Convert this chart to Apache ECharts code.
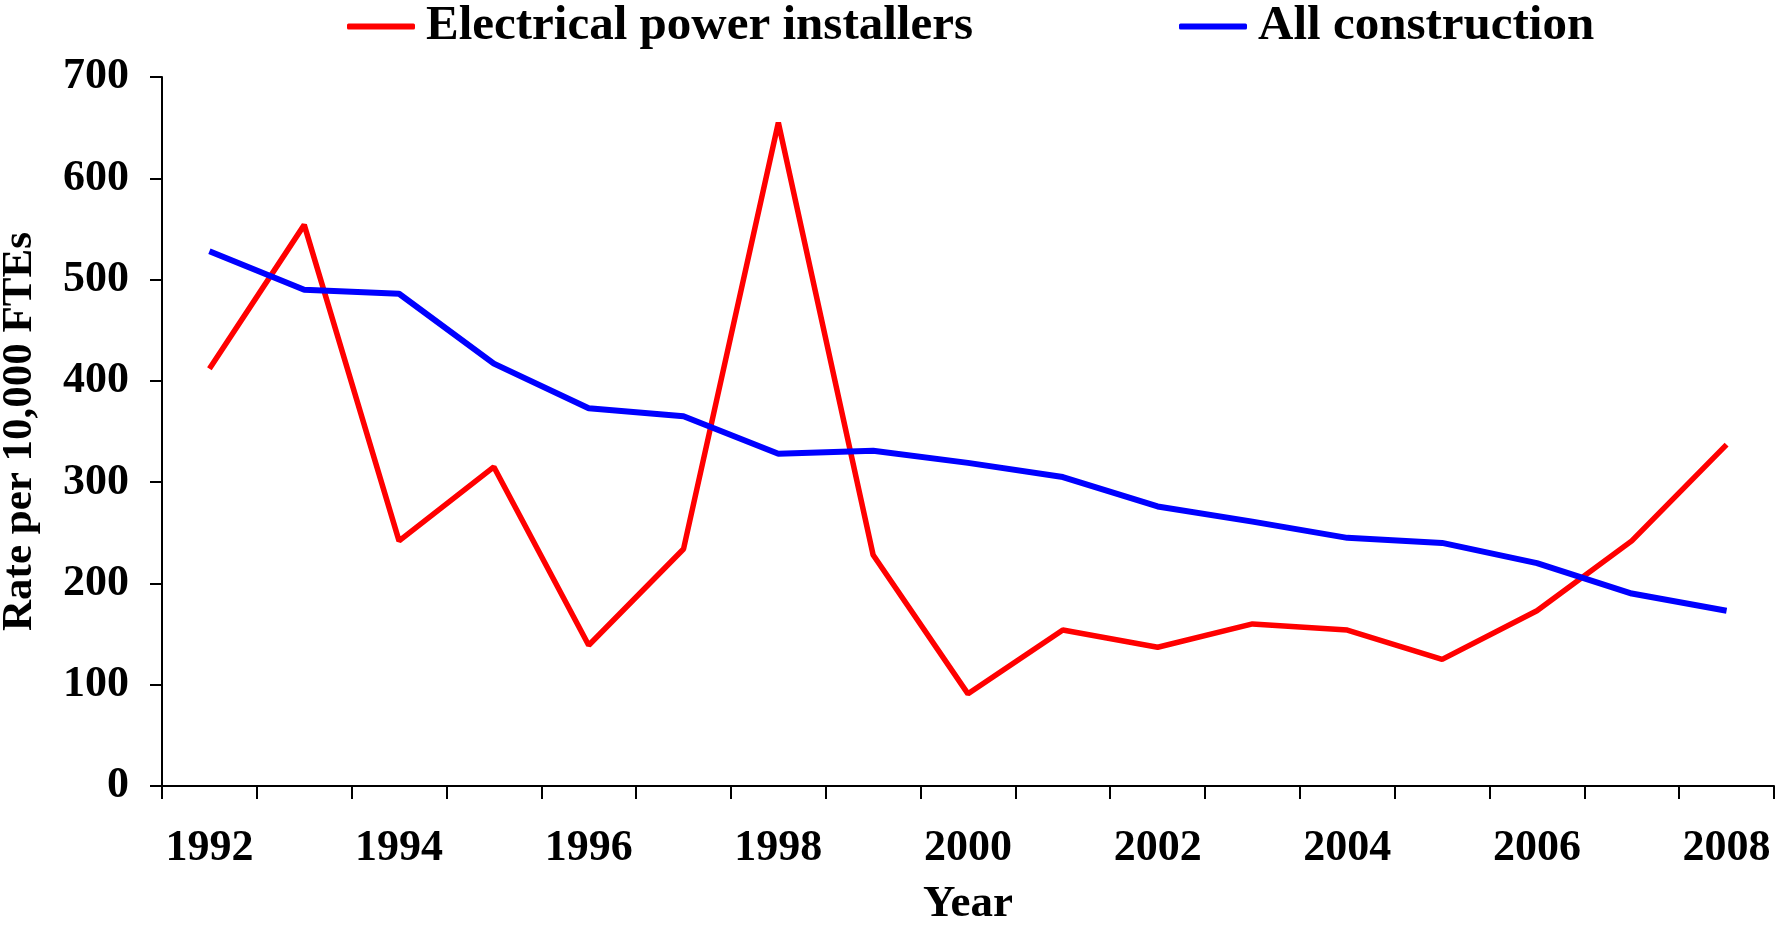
<!DOCTYPE html>
<html>
<head>
<meta charset="utf-8">
<script src="https://cdn.jsdelivr.net/npm/echarts@6/dist/echarts.min.js"></script>
<style>
  html, body { margin: 0; padding: 0; background: #ffffff; }
  #chart { width: 1776px; height: 926px; }
</style>
</head>
<body>
<div id="chart"></div>
<script>
// Injury rate per 10,000 full-time equivalent workers, by year
const years = ['1992','1993','1994','1995','1996','1997','1998','1999','2000',
               '2001','2002','2003','2004','2005','2006','2007','2008'];
const electricalPowerInstallers = [412, 554, 242, 315, 139, 234, 655, 228, 91,
                                   154, 137, 160, 154, 125, 173, 242, 337];
const allConstruction = [528, 490, 486, 417, 373, 365, 328, 331, 319,
                         305, 276, 261, 245, 240, 220, 190, 173];
const seriesNames = ['Electrical power installers', 'All construction'];
const seriesColors = ['#ff0000', '#0000ff'];

const FONT = 'Liberation Serif';
const chart = echarts.init(document.getElementById('chart'), null, { renderer: 'canvas' });

chart.setOption({
  animation: false,
  backgroundColor: '#ffffff',
  textStyle: { fontFamily: FONT, fontWeight: 'bold', color: '#000' },
  legend: {
    top: -3,
    left: 342,
    itemGap: 206,
    itemWidth: 68,
    itemHeight: 6,
    icon: 'roundRect',
    data: seriesNames,
    textStyle: {
      fontFamily: FONT, fontWeight: 'bold', fontSize: 49, color: '#000',
      padding: [0, 0, 0, 6]
    }
  },
  grid: {
    left: 162, right: 2, top: 77, bottom: 140,
    containLabel: false,
    outerBoundsMode: 'none'
  },
  xAxis: {
    type: 'category',
    data: years,
    boundaryGap: true,
    name: 'Year',
    nameLocation: 'middle',
    nameGap: 96,
    nameTextStyle: { fontFamily: FONT, fontWeight: 'bold', fontSize: 45, color: '#000' },
    axisLine: { lineStyle: { color: '#000', width: 2 } },
    axisTick: { show: true, interval: 0, length: 13, lineStyle: { color: '#000', width: 2 } },
    axisLabel: {
      interval: 1, margin: 41,
      fontFamily: FONT, fontWeight: 'bold', fontSize: 44, color: '#000'
    },
    splitLine: { show: false }
  },
  yAxis: {
    type: 'value',
    min: 0, max: 700, interval: 100,
    name: 'Rate per 10,000 FTEs',
    nameLocation: 'middle',
    nameGap: 121,
    nameRotate: 90,
    nameTextStyle: { fontFamily: FONT, fontWeight: 'bold', fontSize: 43, color: '#000' },
    axisLine: { show: true, lineStyle: { color: '#000', width: 2 } },
    axisTick: { show: true, length: 12, lineStyle: { color: '#000', width: 2 } },
    axisLabel: {
      margin: 33,
      fontFamily: FONT, fontWeight: 'bold', fontSize: 44, color: '#000'
    },
    splitLine: { show: false }
  },
  series: [
    {
      name: seriesNames[0], type: 'line', data: electricalPowerInstallers,
      symbol: 'none', color: seriesColors[0],
      lineStyle: { color: seriesColors[0], width: 5.5 }
    },
    {
      name: seriesNames[1], type: 'line', data: allConstruction,
      symbol: 'none', color: seriesColors[1],
      lineStyle: { color: seriesColors[1], width: 6 }
    }
  ]
});
</script>
</body>
</html>
